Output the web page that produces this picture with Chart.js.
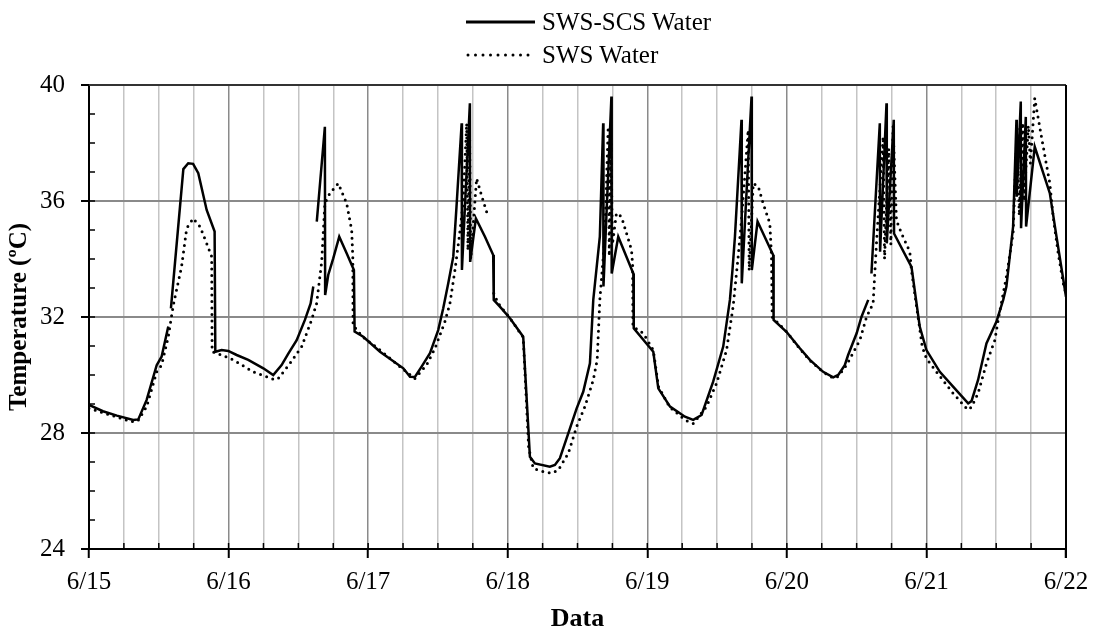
<!DOCTYPE html>
<html>
<head>
<meta charset="utf-8">
<script src="https://cdn.jsdelivr.net/npm/chart.js@4.4.1/dist/chart.umd.min.js"></script>
<style>
  body { margin: 0; background: #fff; }
  #wrap { position: relative; width: 1099px; height: 637px; }
  .legend {
    position: absolute; left: 466px; height: 29px;
    font-family: "Liberation Serif", "Times New Roman", serif; font-size: 25px; color: #000;
    display: flex; align-items: center; white-space: nowrap;
  }
  .legend svg { margin-right: 7px; }
</style>
</head>
<body>
<div id="wrap">
  <canvas id="tempChart" width="1099" height="637"></canvas>
  <div class="legend" style="top:7px">
    <svg width="69" height="6"><line x1="0" y1="3" x2="69" y2="3" stroke="#000" stroke-width="3"/></svg>SWS-SCS Water
  </div>
  <div class="legend" style="top:40px">
    <svg width="69" height="6"><line x1="2" y1="3" x2="69" y2="3" stroke="#000" stroke-width="3" stroke-linecap="round" stroke-dasharray="0 7.5"/></svg>SWS Water
  </div>
</div>
<script>
// tick labels for the day axis (x = days after 6/15)
const xTickLabels = ["6/15", "6/16", "6/17", "6/18", "6/19", "6/20", "6/21", "6/22"];
const seriesNames = ["SWS-SCS Water", "SWS Water"];

// SWS-SCS Water (solid)
const scsDay = [
  0.00, 0.10, 0.20, 0.317, 0.353, 0.413, 0.485, 0.52, 0.568, 0.578, 0.587, 0.676, 0.711, 0.746, 0.783, 0.843, 0.90, 0.905,
  0.95, 0.998, 1.058, 1.141, 1.249, 1.32, 1.38, 1.428, 1.488, 1.547, 1.588, 1.607, 1.62, 1.632, 1.69, 1.692,
  1.714, 1.75, 1.793, 1.846, 1.898, 1.903, 1.965, 2.085, 2.252, 2.30, 2.335, 2.383, 2.443, 2.502, 2.538, 2.574,
  2.61, 2.633, 2.67, 2.672, 2.729, 2.731, 2.772, 2.837, 2.896, 2.90, 2.944, 3.016, 3.111, 3.159, 3.195, 3.302,
  3.338, 3.374, 3.446, 3.494, 3.541, 3.589, 3.613, 3.66, 3.684, 3.686, 3.743, 3.745, 3.792, 3.90, 3.903, 4.043,
  4.079, 4.163, 4.27, 4.329, 4.389, 4.472, 4.544, 4.592, 4.61, 4.628, 4.675, 4.677, 4.747, 4.749, 4.79, 4.902,
  4.905, 4.997, 5.093, 5.165, 5.26, 5.332, 5.368, 5.415, 5.439, 5.50, 5.535, 5.583, 5.595, 5.606, 5.666, 5.668,
  5.714, 5.716, 5.766, 5.768, 5.893, 5.952, 6.00, 6.096, 6.191, 6.299, 6.323, 6.37, 6.43, 6.502, 6.55, 6.573,
  6.621, 6.645, 6.647, 6.676, 6.678, 6.712, 6.714, 6.776, 6.884, 6.932, 7.00
];
const scsTemp = [
  28.97, 28.75, 28.6, 28.45, 28.47, 29.14, 30.34, 30.63, 31.67, null, 32.3, 37.1, 37.3, 37.28, 36.96, 35.69, 34.95, 30.8,
  30.86, 30.83, 30.69, 30.52, 30.23, 30.0, 30.34, 30.74, 31.2, 31.9, 32.47, 33.05, null, 35.29, 38.56, 32.76,
  33.45, 34.02, 34.77, 34.2, 33.62, 31.5, 31.32, 30.8, 30.23, 29.94, 29.93, 30.29, 30.75, 31.55, 32.3, 33.16,
  34.08, 35.8, 38.68, 33.62, 39.37, 33.9, 35.4, 34.77, 34.14, 32.59, 32.36, 31.96, 31.32, 27.18, 26.95, 26.84,
  26.9, 27.13, 28.16, 28.85, 29.42, 30.4, 32.59, 34.77, 38.68, 33.05, 39.6, 33.5, 34.77, 33.5, 31.61, 30.8,
  29.54, 28.91, 28.56, 28.45, 28.62, 29.77, 30.98, 32.59, 33.6, 34.77, 38.8, 33.16, 39.6, 33.62, 35.29, 34.14,
  31.9, 31.49, 30.92, 30.52, 30.11, 29.92, 30.0, 30.34, 30.69, 31.44, 32.01, 32.59, null, 33.5, 38.68, 34.25,
  39.37, 34.54, 38.8, 34.88, 33.73, 31.67, 30.86, 30.11, 29.6, 29.02, 29.1, 29.83, 31.09, 31.84, 32.59, 33.05,
  35.12, 38.8, 36.15, 39.43, 35.06, 38.9, 35.12, 37.87, 36.27, 34.77, 32.7
];

// SWS Water (dotted)
const swsDay = [
  0.00, 0.10, 0.20, 0.306, 0.35, 0.413, 0.485, 0.52, 0.568, 0.604, 0.663, 0.70, 0.747, 0.795, 0.843, 0.879, 0.882,
  0.95, 1.034, 1.177, 1.332, 1.36, 1.44, 1.524, 1.595, 1.631, 1.667, 1.69, 1.726, 1.786, 1.846, 1.882, 1.89, 1.892,
  1.96, 2.085, 2.25, 2.335, 2.418, 2.479, 2.55, 2.586, 2.622, 2.653, 2.68, 2.706, 2.715, 2.727, 2.735, 2.777,
  2.812, 2.86, 2.88, 2.90, 2.932, 3.016, 3.111, 3.15, 3.183, 3.254, 3.314, 3.362, 3.434, 3.494, 3.553, 3.613,
  3.641, 3.66, 3.696, 3.72, 3.728, 3.74, 3.75, 3.779, 3.815, 3.851, 3.887, 3.895, 3.897, 3.971, 4.043, 4.08,
  4.16, 4.27, 4.33, 4.424, 4.496, 4.568, 4.615, 4.651, 4.675, 4.723, 4.73, 4.759, 4.795, 4.83, 4.878, 4.89,
  4.895, 4.997, 5.093, 5.165, 5.26, 5.332, 5.368, 5.427, 5.523, 5.571, 5.618, 5.642, 5.69, 5.70, 5.73, 5.745,
  5.761, 5.785, 5.821, 5.881, 5.893, 5.97, 6.00, 6.072, 6.191, 6.287, 6.30, 6.323, 6.37, 6.43, 6.49, 6.514,
  6.573, 6.621, 6.633, 6.65, 6.665, 6.69, 6.70, 6.73, 6.745, 6.776, 6.824, 6.884, 6.908, 6.944, 6.98, 7.00
];
const swsTemp = [
  28.85, 28.7, 28.55, 28.39, 28.42, 28.91, 30.11, 30.34, 31.32, 32.41, 33.73, 35.06, 35.4, 35.12, 34.54, 34.08, 30.8,
  30.69, 30.52, 30.11, 29.83, 29.9, 30.4, 30.98, 31.9, 32.47, 33.9, 35.92, 36.27, 36.61, 35.92, 35.0, 34.08, 31.72,
  31.32, 30.86, 30.2, 29.88, 30.34, 30.92, 31.84, 32.47, 33.62, 34.77, 35.92, 38.68, 34.3, 38.4, 34.0, 36.78,
  36.2, 35.46, null, 32.82, 32.47, 31.96, 31.3, 27.5, 26.78, 26.67, 26.61, 26.72, 27.3, 28.22, 28.91, 29.83,
  30.52, 32.59, 34.77, 38.56, 34.1, 38.0, 34.5, 35.58, 35.46, 34.89, 34.31, 33.8, 31.67, 31.44, 30.86, 29.6,
  28.9, 28.45, 28.33, 28.91, 29.71, 30.86, 32.36, 34.08, 35.34, 38.45, 33.6, 36.61, 36.5, 35.92, 35.23, 34.1,
  32.0, 31.5, 30.9, 30.5, 30.1, 29.9, 29.95, 30.34, 31.2, 32.0, 32.47, 34.54, 38.22, 34.0, 37.8, 34.5,
  38.56, 35.34, 34.89, 34.25, 33.6, 30.98, 30.57, 30.11, 29.37, 28.85, 28.8, 28.9, 29.37, 30.4, 31.2, 31.9,
  33.39, 34.89, 36.5, 38.5, 35.5, 38.7, 36.0, 38.6, 37.3, 39.54, 38.22, 36.61, 35.46, 34.2, 33.16, 32.8
];

const serif = "'Liberation Serif', 'Times New Roman', serif";
const isDay = v => Math.abs(v - Math.round(v)) < 1e-6;

// inward minor ticks plus the top/right frame of the plot
const frameTicks = {
  id: "frameTicks",
  afterDraw(chart) {
    const { ctx, chartArea: a, scales: { x, y } } = chart;
    ctx.save();
    ctx.strokeStyle = "#000";
    ctx.lineWidth = 1.5;
    ctx.beginPath();
    x.ticks.forEach(t => {
      const px = x.getPixelForValue(t.value);
      ctx.moveTo(px, a.bottom);
      ctx.lineTo(px, a.bottom - 6);
    });
    y.ticks.forEach(t => {
      const py = y.getPixelForValue(t.value);
      ctx.moveTo(a.left, py);
      ctx.lineTo(a.left + 6, py);
    });
    ctx.stroke();
    ctx.lineWidth = 2;
    ctx.strokeStyle = "#333";
    ctx.beginPath();
    ctx.moveTo(a.left, a.top);
    ctx.lineTo(a.right, a.top);
    ctx.stroke();
    ctx.strokeStyle = "#000";
    ctx.beginPath();
    ctx.moveTo(a.right, a.top);
    ctx.lineTo(a.right, a.bottom + 9);
    ctx.stroke();
    ctx.restore();
  }
};

const chart = new Chart(document.getElementById("tempChart"), {
  type: "line",
  data: {
    datasets: [
      {
        label: seriesNames[0],
        data: scsDay.map((d, i) => ({ x: d, y: scsTemp[i] })),
        borderColor: "#000",
        borderWidth: 2.5,
        pointRadius: 0,
        tension: 0,
        spanGaps: false
      },
      {
        label: seriesNames[1],
        data: swsDay.map((d, i) => ({ x: d, y: swsTemp[i] })),
        borderColor: "#000",
        borderWidth: 3,
        borderDash: [0, 6.5],
        borderCapStyle: "round",
        pointRadius: 0,
        tension: 0,
        spanGaps: false
      }
    ]
  },
  options: {
    responsive: false,
    animation: false,
    layout: { padding: { top: 85, right: 33, left: 0, bottom: 0 } },
    plugins: { legend: { display: false }, tooltip: { enabled: false } },
    scales: {
      x: {
        type: "linear",
        min: 0,
        max: 7,
        ticks: {
          stepSize: 0.25,
          autoSkip: false,
          maxTicksLimit: 100,
          maxRotation: 0,
          padding: 9,
          color: "#000",
          font: { family: serif, size: 25 },
          callback: v => (isDay(v) ? xTickLabels[Math.round(v)] : "")
        },
        grid: {
          color: c => (isDay(c.tick.value) ? "#8a8a8a" : "#c4c4c4"),
          lineWidth: 1.5,
          tickLength: 9,
          tickWidth: 2,
          tickColor: c => (isDay(c.tick.value) ? "#000" : "rgba(0,0,0,0)")
        },
        border: { color: "#000", width: 2 },
        title: {
          display: true,
          text: "Data",
          color: "#000",
          font: { family: serif, size: 26, weight: "bold" },
          padding: { top: 0, bottom: 2 }
        },
        afterFit: s => { s.height = 88; }
      },
      y: {
        min: 24,
        max: 40,
        ticks: {
          stepSize: 1,
          autoSkip: false,
          padding: 16,
          color: "#000",
          font: { family: serif, size: 25 },
          callback: v => (v % 4 === 0 ? String(v) : "")
        },
        grid: {
          color: c => (c.tick.value % 4 === 0 ? "#8a8a8a" : "rgba(0,0,0,0)"),
          lineWidth: 2,
          tickLength: 8,
          tickWidth: 2,
          tickColor: c => (c.tick.value % 4 === 0 ? "#000" : "rgba(0,0,0,0)")
        },
        border: { color: "#000", width: 2 },
        title: {
          display: true,
          text: "Temperature (ºC)",
          color: "#000",
          font: { family: serif, size: 25, weight: "bold" },
          padding: { top: 5, bottom: 0 }
        },
        afterFit: s => { s.width = 89; }
      }
    }
  },
  plugins: [frameTicks]
});
</script>
</body>
</html>
